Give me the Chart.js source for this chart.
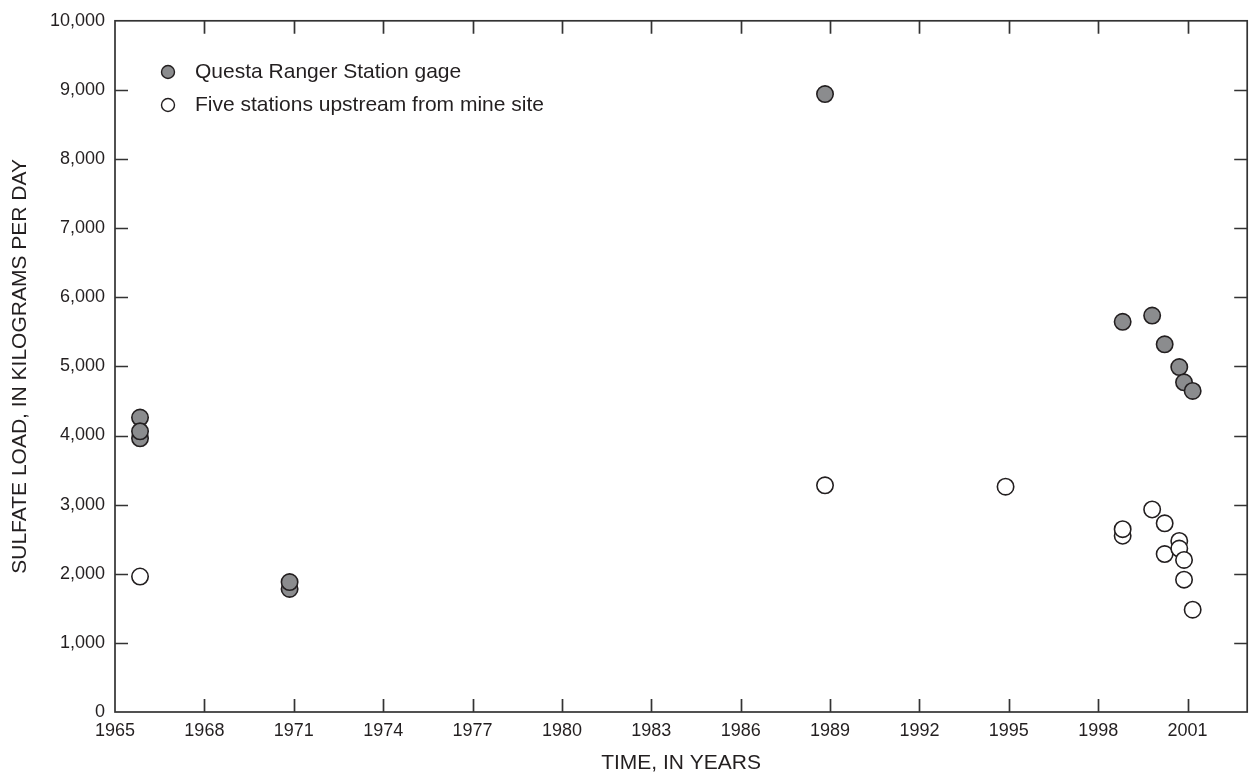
<!DOCTYPE html>
<html>
<head>
<meta charset="utf-8">
<script src="https://cdn.jsdelivr.net/npm/chart.js@4"></script>
<style>
  body { margin: 0; background: #fff; }
  #wrap { width: 1257px; height: 776px; position: relative; }
</style>
</head>
<body>
<div id="wrap"><canvas id="sulfateChart"></canvas></div>
<script>
// values (year as decimal, load in kg/day)
var questaYears = [1965.84, 1965.84, 1965.84, 1970.86, 1970.86, 1988.83, 1998.82, 1999.81, 2000.23, 2000.72, 2000.88, 2001.17];
var questaLoads = [3960, 4260, 4060, 1780, 1880, 8940, 5645, 5735, 5320, 4990, 4770, 4645];

var upstreamYears = [1965.84, 1988.83, 1994.89, 1998.82, 1998.82, 1999.81, 2000.23, 2000.23, 2000.72, 2000.72, 2000.88, 2000.88, 2001.17];
var upstreamLoads = [1960, 3280, 3260, 2550, 2645, 2930, 2730, 2285, 2475, 2365, 2200, 1915, 1480];

var xTicks = [1965, 1968, 1971, 1974, 1977, 1980, 1983, 1986, 1989, 1992, 1995, 1998, 2001];
var yTicks = [0, 1000, 2000, 3000, 4000, 5000, 6000, 7000, 8000, 9000, 10000];

var ink = "#231f20";
var fontName = "'Liberation Sans', Arial, Helvetica, sans-serif";

function toPoints(xs, ys) {
  return xs.map(function (x, i) { return { x: x, y: ys[i] }; });
}

// box frame with ticks pointing inward on all four sides
var framePlugin = {
  id: "frame",
  beforeDatasetsDraw: function (chart) {
    var ctx = chart.ctx, a = chart.chartArea;
    var x = chart.scales.x, y = chart.scales.y;
    var len = 13;
    ctx.save();
    ctx.strokeStyle = "#333333";
    ctx.lineWidth = 1.7;
    ctx.strokeRect(a.left, a.top, a.right - a.left, a.bottom - a.top);
    ctx.beginPath();
    x.ticks.forEach(function (t) {
      var px = Math.round(x.getPixelForValue(t.value)) + 0.5;
      if (px <= a.left + 1 || px >= a.right - 1) return;
      ctx.moveTo(px, a.bottom); ctx.lineTo(px, a.bottom - len);
      ctx.moveTo(px, a.top); ctx.lineTo(px, a.top + len);
    });
    y.ticks.forEach(function (t) {
      var py = Math.round(y.getPixelForValue(t.value)) + 0.5;
      if (py <= a.top + 1 || py >= a.bottom - 1) return;
      ctx.moveTo(a.left, py); ctx.lineTo(a.left + len, py);
      ctx.moveTo(a.right, py); ctx.lineTo(a.right - len, py);
    });
    ctx.stroke();
    ctx.restore();
  }
};

// legend inside the plot, top left
var legendPlugin = {
  id: "insideLegend",
  afterDraw: function (chart) {
    var ctx = chart.ctx;
    ctx.save();
    ctx.font = "21px " + fontName;
    ctx.textBaseline = "middle";
    chart.data.datasets.forEach(function (ds, i) {
      var cy = 72 + i * 33;
      ctx.beginPath();
      ctx.arc(168, cy, 6.5, 0, Math.PI * 2);
      ctx.fillStyle = ds.backgroundColor;
      ctx.fill();
      ctx.lineWidth = 1.4;
      ctx.strokeStyle = ds.borderColor;
      ctx.stroke();
      ctx.fillStyle = ink;
      ctx.fillText(ds.label, 195, cy);
    });
    ctx.restore();
  }
};

var ctx = document.getElementById("sulfateChart").getContext("2d");
var sulfateChart = new Chart(ctx, {
  type: "scatter",
  data: {
    datasets: [
      {
        label: "Questa Ranger Station gage",
        data: toPoints(questaYears, questaLoads),
        backgroundColor: "#8b8c8e",
        borderColor: ink,
        borderWidth: 1.6,
        pointRadius: 8.2,
      },
      {
        label: "Five stations upstream from mine site",
        data: toPoints(upstreamYears, upstreamLoads),
        backgroundColor: "#ffffff",
        borderColor: ink,
        borderWidth: 1.6,
        pointRadius: 8.2,
      },
    ],
  },
  options: {
    responsive: true,
    maintainAspectRatio: false,
    animation: false,
    events: [],
    layout: { padding: { top: 17, right: 6, left: 0, bottom: 0 } },
    plugins: {
      legend: { display: false },
      tooltip: { enabled: false },
    },
    scales: {
      x: {
        type: "linear",
        min: 1965,
        max: 2003,
        afterBuildTicks: function (s) {
          s.ticks = xTicks.map(function (v) { return { value: v }; });
        },
        afterFit: function (s) { s.height = 64; },
        grid: { display: false, drawTicks: false },
        border: { display: false },
        ticks: {
          color: ink,
          padding: 8,
          maxRotation: 0,
          autoSkip: false,
          font: { family: fontName, size: 18 },
          callback: function (v) { return String(v); },
        },
        title: {
          display: true,
          text: "TIME, IN YEARS",
          color: ink,
          padding: { top: 0, bottom: 0 },
          font: { family: fontName, size: 21 },
        },
      },
      y: {
        min: 0,
        max: 10000,
        afterBuildTicks: function (s) {
          s.ticks = yTicks.map(function (v) { return { value: v }; });
        },
        afterFit: function (s) { s.width = 115; },
        grid: { display: false, drawTicks: false },
        border: { display: false },
        ticks: {
          color: ink,
          padding: 10,
          autoSkip: false,
          font: { family: fontName, size: 18 },
          callback: function (v) { return v.toLocaleString("en-US"); },
        },
        title: {
          display: true,
          text: "SULFATE LOAD, IN KILOGRAMS PER DAY",
          color: ink,
          padding: { top: 8, bottom: 0 },
          font: { family: fontName, size: 21 },
        },
      },
    },
  },
  plugins: [framePlugin, legendPlugin],
});
</script>
</body>
</html>
